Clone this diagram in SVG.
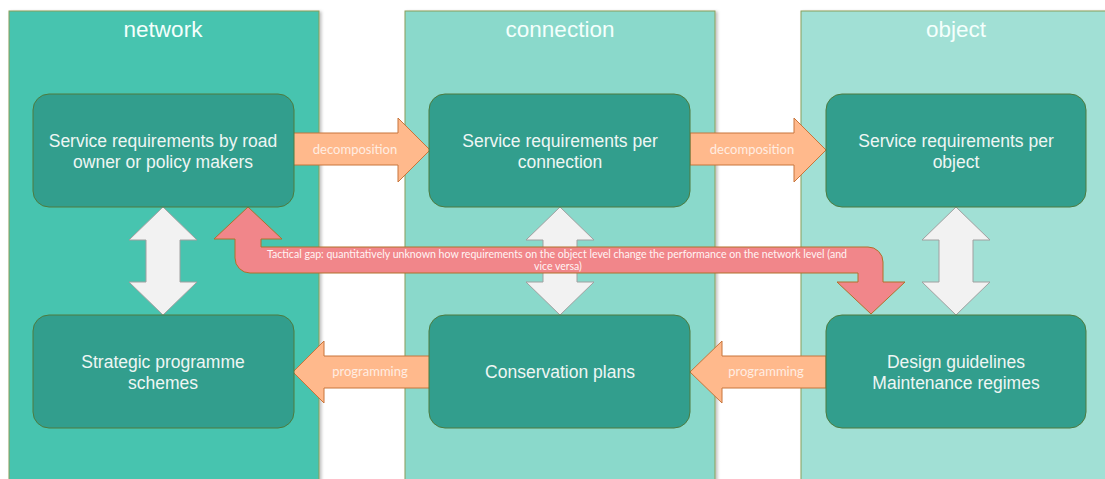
<svg xmlns="http://www.w3.org/2000/svg" width="1105" height="479" viewBox="0 0 1105 479">
<defs>
<filter id="sh" x="-5%" y="-5%" width="110%" height="110%">
<feDropShadow dx="2" dy="1" stdDeviation="1.5" flood-color="#000" flood-opacity="0.25"/>
</filter>
</defs>
<style>
.col{stroke:#8A9E5A;stroke-width:1;filter:url(#sh)}
.head{font-family:"Liberation Sans",Arial,sans-serif;font-size:22.5px;fill:#F4FFFC;text-anchor:middle}
.node rect{fill:#329E8D;stroke:#4E7B3E;stroke-width:1}
.node text{font-family:"Liberation Sans",Arial,sans-serif;font-size:17.5px;fill:#EEF6F4;text-anchor:middle}
.orange{fill:#FFB98C;stroke:#C8753A;stroke-width:1}
.dbl{fill:#F2F2F2;stroke:#A0A0A0;stroke-width:1}
.red{fill:#F1868A;stroke:#B0702A;stroke-width:1}
.lbl{font-family:Lato,"Liberation Sans",sans-serif;font-size:13px;fill:#FFEDE2;text-anchor:middle}
.gap{font-family:Lato,"Liberation Sans",sans-serif;font-size:10.5px;fill:#FFF4F4;text-anchor:middle}
</style>
<rect width="1105" height="479" fill="#FFFFFF"/>
<g id="col-network"><rect class="col" x="9" y="11" width="310" height="480" fill="#47C4AF"/><text class="head" x="163" y="37">network</text></g>
<g id="col-connection"><rect class="col" x="405" y="11" width="310" height="480" fill="#8AD9CB"/><text class="head" x="560" y="37">connection</text></g>
<g id="col-object"><rect class="col" x="801" y="11" width="320" height="480" fill="#A1E0D5"/><text class="head" x="956" y="37">object</text></g>

<g id="connectors">
<path class="orange" d="M293,133 H398 V118 L430,150 L398,182 V165 H293 Z"/>
<text class="lbl" x="355" y="154">decomposition</text>
<path class="orange" d="M690,133 H794 V118 L826,150 L794,182 V165 H690 Z"/>
<text class="lbl" x="752" y="154">decomposition</text>
<path class="orange" d="M430,356 H324 V341 L293,372 L324,403 V388 H430 Z"/>
<text class="lbl" x="370" y="376">programming</text>
<path class="orange" d="M826,356 H722 V341 L690,372 L722,403 V388 H826 Z"/>
<text class="lbl" x="766" y="376">programming</text>
<path class="dbl" d="M163,207 L197,240 H180 V282 H197 L163,315 L129,282 H146 V240 H129 Z"/>
<path class="dbl" d="M560,207 L594,240 H577 V282 H594 L560,315 L526,282 H543 V240 H526 Z"/>
<path class="dbl" d="M956,207 L990,240 H973 V282 H990 L956,315 L922,282 H939 V240 H922 Z"/>
<path class="red" d="M248,207 L282,239 H261 V247 H868 A15,15 0 0 1 883,262 V282 H905 L871,314 L837,282 H858 V273 H250 A15,15 0 0 1 235,258 V239 H214 Z"/>
<text class="gap" x="557" y="258" textLength="580" lengthAdjust="spacingAndGlyphs">Tactical gap: quantitatively  unknown how requirements on the object level change the performance on the network level (and</text>
<text class="gap" x="558" y="270">vice versa)</text>
</g>

<g id="n-network-top" class="node"><rect x="33" y="94" width="261" height="113" rx="16"/><text x="163" y="147">Service requirements by road</text><text x="163" y="168">owner or policy makers</text></g>
<g id="n-network-bottom" class="node"><rect x="33" y="315" width="261" height="113" rx="16"/><text x="163" y="368">Strategic programme</text><text x="163" y="389">schemes</text></g>
<g id="n-connection-top" class="node"><rect x="429" y="94" width="261" height="113" rx="16"/><text x="560" y="147">Service requirements per</text><text x="560" y="168">connection</text></g>
<g id="n-connection-bottom" class="node"><rect x="429" y="315" width="261" height="113" rx="16"/><text x="560" y="378">Conservation plans</text></g>
<g id="n-object-top" class="node"><rect x="826" y="94" width="260" height="113" rx="16"/><text x="956" y="147">Service requirements per</text><text x="956" y="168">object</text></g>
<g id="n-object-bottom" class="node"><rect x="826" y="315" width="260" height="113" rx="16"/><text x="956" y="368">Design guidelines</text><text x="956" y="389">Maintenance regimes</text></g>
</svg>
